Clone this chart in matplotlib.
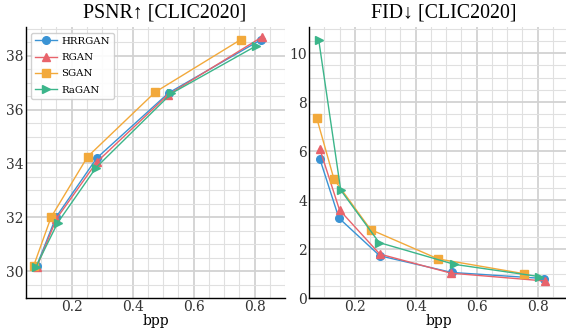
import matplotlib.pyplot as plt
from matplotlib.ticker import MultipleLocator

plt.rcParams['font.family'] = ['DejaVu Serif']

methods = ['HRRGAN', 'RGAN', 'SGAN', 'RaGAN']
colors = ['#3a93d4', '#e8636b', '#f2a93b', '#3bb58a']
markers = ['o', '^', 's', '>']

# bpp per method
bpp = {
    'HRRGAN': [0.085, 0.148, 0.282, 0.518, 0.822],
    'RGAN':   [0.085, 0.150, 0.282, 0.516, 0.825],
    'SGAN':   [0.075, 0.132, 0.252, 0.474, 0.755],
    'RaGAN':  [0.082, 0.154, 0.280, 0.527, 0.806],
}
psnr = {
    'HRRGAN': [30.2, 32.0, 34.2, 36.62, 38.6],
    'RGAN':   [30.15, 31.95, 34.05, 36.55, 38.7],
    'SGAN':   [30.2, 32.0, 34.25, 36.65, 38.6],
    'RaGAN':  [30.15, 31.8, 33.85, 36.6, 38.37],
}
fid = {
    'HRRGAN': [5.7, 3.27, 1.73, 1.05, 0.8],
    'RGAN':   [6.1, 3.6, 1.8, 1.02, 0.7],
    'SGAN':   [7.36, 4.85, 2.8, 1.6, 1.0],
    'RaGAN':  [10.52, 4.41, 2.27, 1.38, 0.88],
}

fig, axes = plt.subplots(1, 2, figsize=(5.66, 3.35), dpi=100)

panels = [(axes[0], psnr, 'PSNR↑ [CLIC2020]', (29, 39.05), 0.535),
          (axes[1], fid, 'FID↓ [CLIC2020]', (0, 11.05), 0.52)]

for ax, vals, title, ylim, tx in panels:
    for m, c, mk in zip(methods, colors, markers):
        ax.plot(bpp[m], vals[m], color=c, marker=mk, markersize=5.5,
                linewidth=1.0, label=m)
    ax.set_title(title, fontsize=14.3, family=['Liberation Serif', 'DejaVu Serif'],
                 pad=7, x=tx)
    ax.set_xlabel('bpp', fontsize=10, labelpad=0)
    ax.set_xlim(0.05, 0.9)
    ax.set_ylim(*ylim)
    ax.xaxis.set_major_locator(MultipleLocator(0.2))
    ax.xaxis.set_minor_locator(MultipleLocator(0.05))
    ax.yaxis.set_major_locator(MultipleLocator(2))
    ax.yaxis.set_minor_locator(MultipleLocator(0.5))
    ax.grid(which='major', color='#d2d2d2', linewidth=1.3)
    ax.grid(which='minor', color='#e0e0e0', linewidth=0.8)
    ax.set_axisbelow(True)
    for s in ['top', 'right']:
        ax.spines[s].set_visible(False)
    for s in ['left', 'bottom']:
        ax.spines[s].set_color('black')
        ax.spines[s].set_linewidth(1.0)
    ax.tick_params(which='major', labelsize=10, length=0, pad=1.5, colors='#333333')
    ax.tick_params(which='minor', length=0)

axes[0].legend(loc='upper left', fontsize=7.3, frameon=True, edgecolor='#cccccc',
               framealpha=0.9, borderpad=0.4, handlelength=2.2, handletextpad=0.4,
               labelspacing=0.72, borderaxespad=0.5)

fig.subplots_adjust(left=0.046, right=1.0035, bottom=0.11, top=0.918, wspace=0.093)
fig.savefig('out.png', dpi=100)
